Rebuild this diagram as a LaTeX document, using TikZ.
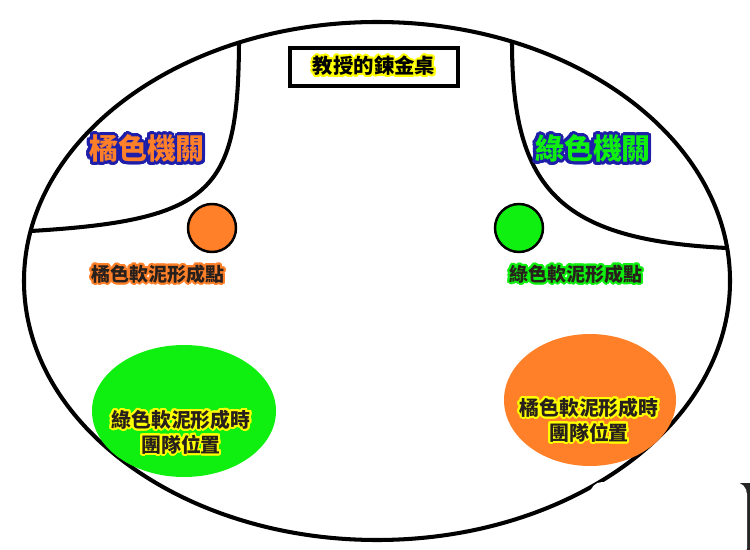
\documentclass[tikz,border=0pt]{standalone}
\usepackage{fontspec}
\setmainfont{Noto Sans CJK TC}
\usepackage{contour}
\contournumber{24}
\definecolor{orangeC}{RGB}{255,128,40}
\definecolor{greenC}{RGB}{16,240,16}
\definecolor{blueC}{RGB}{30,30,170}
\definecolor{yellowC}{RGB}{255,255,0}
\definecolor{inkC}{RGB}{40,32,28}

\begin{document}
\begin{tikzpicture}[x=0.02cm,y=-0.02cm,
  small/.style={text=inkC,font=\bfseries\fontsize{10.8}{14}\selectfont\contourlength{1.1pt}},
  big/.style={font=\bfseries\fontsize{16.5}{18}\selectfont\contourlength{1.7pt}},
  team/.style={text=inkC,align=center,font=\bfseries\fontsize{11.3}{14.2}\selectfont\contourlength{1.1pt}}]
\useasboundingbox (0,0) rectangle (750,550);

% room
\draw[line width=2.3pt] (377,281) ellipse [x radius=353, y radius=259];
\draw[line width=2.3pt] (239,43) .. controls (238,190) and (215,220) .. (31,231);
\draw[line width=2.3pt] (512,42) .. controls (512,190) and (560,240) .. (727,248);

% desk
\node[draw,line width=2pt,minimum width=3.36cm,minimum height=0.76cm,
  font=\bfseries\fontsize{11.6}{12}\selectfont\contourlength{1.1pt}] (desk) at (374,67)
  {\contour{yellowC}{教授的鍊金桌}};

% mechanisms
\node[big,text=orangeC] (orangemech) at (147,150) {\contour{blueC}{橘色機關}};
\node[big,text=greenC] (greenmech) at (593,150) {\contour{blueC}{綠色機關}};

% slime points
\draw[line width=1.4pt,fill=orangeC] (212,228) circle [radius=24];
\draw[line width=1.4pt,fill=greenC] (519,228) circle [radius=24];
\node[small] (orangept) at (158,275) {\contour{orangeC}{橘色軟泥形成點}};
\node[small] (greenpt) at (576,275) {\contour{greenC}{綠色軟泥形成點}};

% team positions
\fill[greenC] (184,411) ellipse [x radius=92, y radius=66];
\node[team] (greenteam) at (181,433) {\contour{yellowC}{綠色軟泥形成時}\\\contour{yellowC}{團隊位置}};
\fill[orangeC] (590,400) ellipse [x radius=86, y radius=66];
\node[team] (orangeteam) at (589,421) {\contour{yellowC}{橘色軟泥形成時}\\\contour{yellowC}{團隊位置}};

% patch
\fill[black!85] (740,483) rectangle (750,550);
\fill[white,rounded corners=7pt] (590,482) rectangle (747,560);
\end{tikzpicture}
\end{document}
